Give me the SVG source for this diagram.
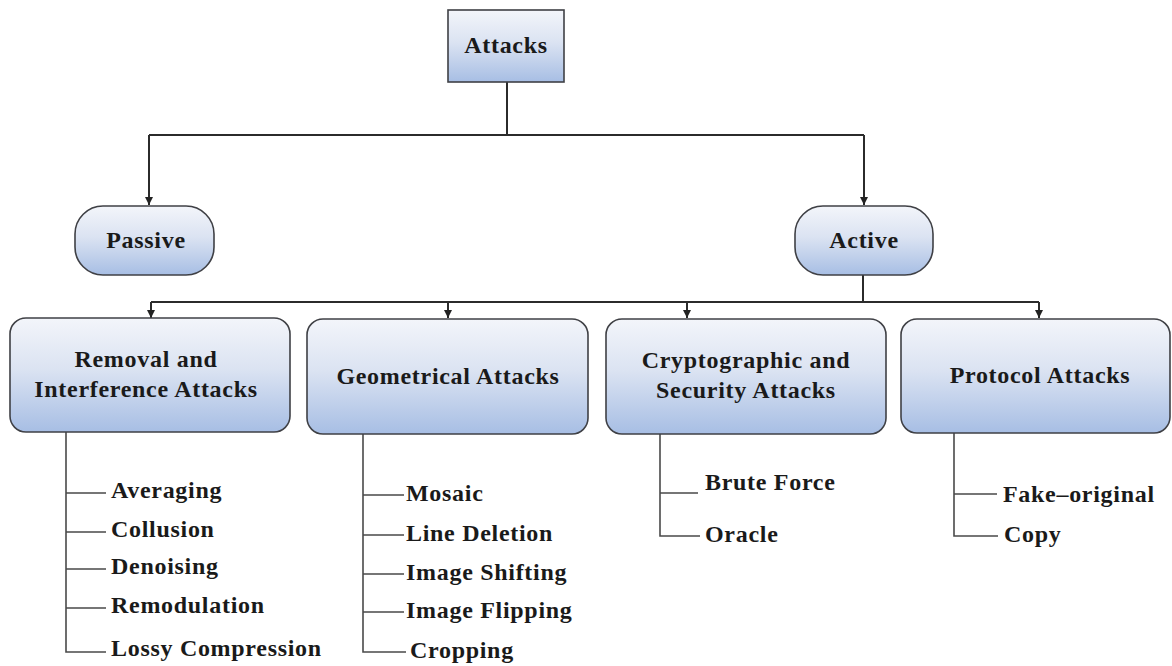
<svg xmlns="http://www.w3.org/2000/svg" width="1172" height="666" viewBox="0 0 1172 666">
  <defs>
    <linearGradient id="boxFill" x1="0" y1="0" x2="0" y2="1">
      <stop offset="0" stop-color="#f3f5fa"/>
      <stop offset="0.45" stop-color="#dbe3f2"/>
      <stop offset="1" stop-color="#a7bee4"/>
    </linearGradient>
    <marker id="arrow" viewBox="0 0 10 10" refX="10" refY="5" markerWidth="8" markerHeight="8" markerUnits="userSpaceOnUse" orient="auto">
      <path d="M0,0 L10,5 L0,10 Z" fill="#222"/>
    </marker>
  </defs>
  <style>
    .box { fill: url(#boxFill); stroke: #3f4045; stroke-width: 1.6; }
    .label { font-family: "Liberation Serif", "Times New Roman", serif; font-weight: bold; font-size: 24px; letter-spacing: 0.7px; fill: #1a1a1a; text-anchor: middle; }
    .leaf { font-family: "Liberation Serif", "Times New Roman", serif; font-weight: bold; font-size: 24px; letter-spacing: 0.7px; fill: #1a1a1a; }
    .wire { fill: none; stroke: #2b2b2b; stroke-width: 2; }
    .tree { fill: none; stroke: #4a4a4a; stroke-width: 1.6; }
  </style>
  <rect width="1172" height="666" fill="#ffffff"/>

  <!-- connectors -->
  <g id="connectors">
    <path class="wire" d="M507,82 V135" stroke-width="3"/>
    <path class="wire" d="M149,135 H864"/>
    <path class="wire" d="M149,135 V205" marker-end="url(#arrow)"/>
    <path class="wire" d="M864,135 V205" marker-end="url(#arrow)"/>
    <path class="wire" d="M863,275 V302" stroke-width="2.5"/>
    <path class="wire" d="M151,302 H1039"/>
    <path class="wire" d="M151,302 V318" marker-end="url(#arrow)"/>
    <path class="wire" d="M448,302 V318" marker-end="url(#arrow)"/>
    <path class="wire" d="M687,302 V318" marker-end="url(#arrow)"/>
    <path class="wire" d="M1039,302 V318" marker-end="url(#arrow)"/>

    <!-- leaf trees -->
    <path class="tree" d="M66,432 V652 H106 M66,493 H106 M66,532 H106 M66,569 H106 M66,608 H106"/>
    <path class="tree" d="M363,434 V652 H406 M363,495 H404 M363,535 H404 M363,574 H404 M363,612 H404"/>
    <path class="tree" d="M660,434 V536 H700 M660,493 H698"/>
    <path class="tree" d="M954,433 V536 H998 M954,494 H997"/>
  </g>

  <!-- root -->
  <g id="node-attacks">
    <rect class="box" x="448" y="10" width="116" height="72" stroke="#222" stroke-width="2"/>
    <text class="label" x="506" y="53">Attacks</text>
  </g>

  <g id="node-passive">
    <rect class="box" x="75" y="206" width="139" height="69" rx="28" ry="28"/>
    <text class="label" x="146" y="248">Passive</text>
  </g>

  <g id="node-active">
    <rect class="box" x="795" y="206" width="138" height="69" rx="28" ry="28"/>
    <text class="label" x="864" y="248">Active</text>
  </g>

  <g id="node-removal">
    <rect class="box" x="10" y="318" width="280" height="114" rx="16" ry="16"/>
    <text class="label" x="146" y="367">Removal and</text>
    <text class="label" x="146" y="397">Interference Attacks</text>
  </g>

  <g id="node-geometrical">
    <rect class="box" x="307" y="319" width="281" height="115" rx="16" ry="16"/>
    <text class="label" x="448" y="384">Geometrical Attacks</text>
  </g>

  <g id="node-cryptographic">
    <rect class="box" x="606" y="319" width="280" height="115" rx="16" ry="16"/>
    <text class="label" x="746" y="368">Cryptographic and</text>
    <text class="label" x="746" y="398">Security Attacks</text>
  </g>

  <g id="node-protocol">
    <rect class="box" x="901" y="319" width="269" height="114" rx="16" ry="16"/>
    <text class="label" x="1040" y="383">Protocol Attacks</text>
  </g>

  <!-- leaf labels -->
  <g id="leaves-removal">
    <text class="leaf" x="111" y="498">Averaging</text>
    <text class="leaf" x="111" y="537">Collusion</text>
    <text class="leaf" x="111" y="574">Denoising</text>
    <text class="leaf" x="111" y="613">Remodulation</text>
    <text class="leaf" x="111" y="656">Lossy Compression</text>
  </g>

  <g id="leaves-geometrical">
    <text class="leaf" x="406" y="501">Mosaic</text>
    <text class="leaf" x="406" y="541">Line Deletion</text>
    <text class="leaf" x="406" y="580">Image Shifting</text>
    <text class="leaf" x="406" y="618">Image Flipping</text>
    <text class="leaf" x="410" y="658">Cropping</text>
  </g>

  <g id="leaves-cryptographic">
    <text class="leaf" x="705" y="490">Brute Force</text>
    <text class="leaf" x="705" y="542">Oracle</text>
  </g>

  <g id="leaves-protocol">
    <text class="leaf" x="1003" y="502">Fake–original</text>
    <text class="leaf" x="1004" y="542">Copy</text>
  </g>
</svg>
